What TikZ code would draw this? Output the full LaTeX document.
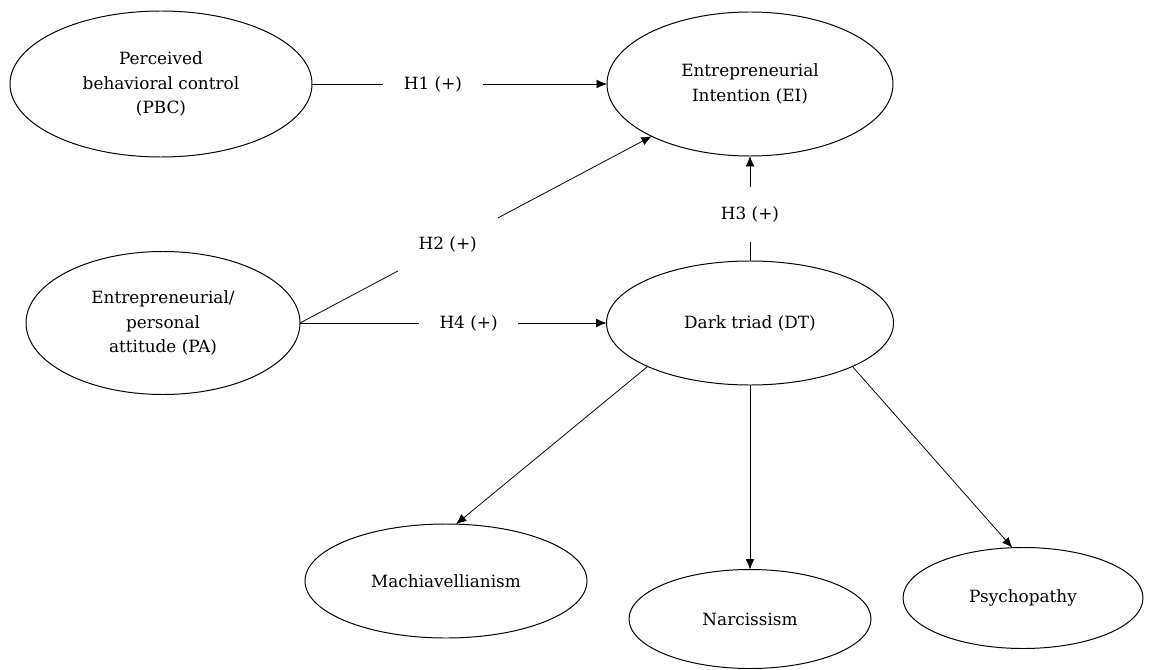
\documentclass[tikz,border=0pt]{standalone}
\usepackage{fontspec}
\setmainfont{DejaVu Serif}
\usepackage{tikz}
\usetikzlibrary{arrows.meta,shapes.geometric}
\tikzset{
  construct/.style={draw=black, ellipse, line width=0.7pt, inner sep=0pt, outer sep=0pt, align=center, font=\fontsize{12}{17.5}\selectfont},
  arrow/.style={-{Latex[length=2.6mm,width=2.2mm]}, line width=0.55pt},
  hyp/.style={fill=white, inner xsep=5.2mm, inner ysep=4.9mm, font=\fontsize{12}{17}\selectfont}
}
\begin{document}
\begin{tikzpicture}
\useasboundingbox (0,0) rectangle (28.875,-16.75);
\node[construct, minimum width=7.55cm, minimum height=3.65cm] (pbc) at (4.025,-2.1) {Perceived\\behavioral control\\(PBC)};
\node[construct, minimum width=7.15cm, minimum height=3.6cm] (ei) at (18.75,-2.1) {Entrepreneurial\\Intention (EI)};
\node[construct, minimum width=6.85cm, minimum height=3.575cm] (pa) at (4.075,-8.075) {Entrepreneurial/\\personal\\attitude (PA)};
\node[construct, minimum width=7.175cm, minimum height=3.1cm] (dt) at (18.75,-8.075) {Dark triad (DT)};
\node[construct, minimum width=7.05cm, minimum height=2.85cm] (mach) at (11.15,-14.525) {Machiavellianism};
\node[construct, minimum width=6.05cm, minimum height=2.475cm] (narc) at (18.75,-15.475) {Narcissism};
\node[construct, minimum width=6cm, minimum height=2.525cm] (psy) at (25.575,-14.95) {Psychopathy};
% hypotheses
\draw[arrow] (pbc.east) -- node[hyp, pos=0.41] (h1) {H1 (+)} (ei.west);
\draw[arrow] (pa.east) -- node[hyp, pos=0.42] (h2) {H2 (+)} (ei.208);
\draw[arrow] (dt.north) -- node[hyp, pos=0.44] (h3) {H3 (+)} (ei.south);
\draw[arrow] (pa.east) -- node[hyp, pos=0.55] (h4) {H4 (+)} (dt.west);
% dimensions of the dark triad
\draw[arrow] (dt.203) -- (mach.80);
\draw[arrow] (dt.south) -- (narc.north);
\draw[arrow] (dt.337) -- (psy.102);
\end{tikzpicture}
\end{document}
